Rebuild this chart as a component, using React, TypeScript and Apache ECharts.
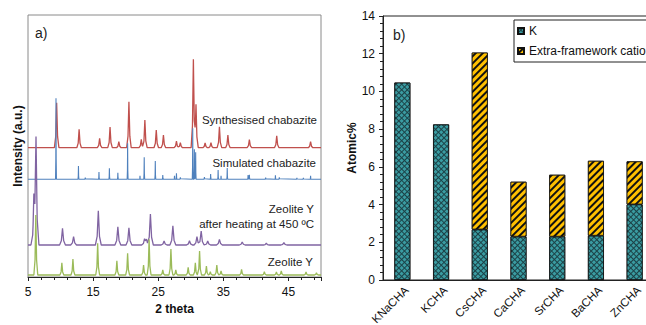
import React, { useEffect, useRef } from "react";
import * as echarts from "echarts";

// ---------- Panel a) XRD patterns: peak lists [2theta, height above baseline] ----------
const SYNTH_BASE = 129.3;
const synthPeaks: [number, number][] = [
  [9.4, 45], [12.85, 18.4], [16.0, 9.4], [17.6, 20.7], [18.95, 6], [20.5, 46],
  [22.4, 8.4], [22.95, 27.7], [24.7, 17.7], [25.8, 12.7], [27.8, 6.7], [28.4, 5],
  [30.4, 88.4], [30.8, 43.4], [32.2, 4.7], [33.1, 5], [34.4, 21], [35.7, 12.7],
  [39.0, 8], [43.2, 12], [48.4, 6],
];
const SIM_BASE = 97.7;
const simPeaks: [number, number][] = [
  [9.3, 81], [12.75, 13.3], [13.8, 1.6], [15.9, 7.3], [17.5, 11], [18.8, 6.6],
  [20.3, 36], [22.2, 3.6], [22.85, 22], [24.55, 18.3], [25.7, 4.3], [27.5, 3.6],
  [27.8, 6], [28.4, 2], [30.3, 51], [30.55, 30], [30.75, 27], [32.1, 2.3],
  [33.05, 5.3], [34.2, 9.3], [34.65, 3.6], [35.6, 11.3], [38.8, 4.3], [39.0, 4.5],
  [41.5, 1.6], [43.0, 4], [43.6, 2], [46.3, 1.5], [47.3, 1.5], [48.4, 3.6],
];
const HEATED_BASE = 32;
const heatedPeaks: [number, number][] = [
  [5.9, 40], [6.23, 104], [10.3, 16.7], [12.0, 8.3], [15.8, 34.3], [18.8, 18.3],
  [20.5, 17.3], [22.9, 5.7], [23.2, 5], [23.8, 31], [25.9, 4], [27.25, 19.3],
  [29.8, 4.3], [30.95, 8.3], [31.6, 14], [32.6, 4], [34.4, 5.7], [37.9, 3],
  [41.6, 1.7], [44.3, 2.3],
];
const ZY_BASE = 2;
const zyPeaks: [number, number][] = [
  [6.2, 60], [10.2, 12.3], [11.9, 16], [15.7, 31.7], [18.65, 14.3], [20.3, 21.7],
  [22.75, 10], [23.6, 35.7], [25.7, 5], [26.95, 26], [27.7, 5], [29.6, 7.7],
  [30.7, 12.3], [31.35, 24], [32.4, 9], [33.0, 3.3], [34.0, 10], [34.65, 4],
  [37.8, 5.7], [41.3, 3.3], [43.15, 3], [43.9, 4], [47.7, 3], [49.3, 2.3],
];
const TWO_THETA_MIN = 5;
const TWO_THETA_MAX = 50;

// ---------- Panel b) stacked bars ----------
const categories = ["KNaCHA", "KCHA", "CsCHA", "CaCHA", "SrCHA", "BaCHA", "ZnCHA"];
const kValues = [10.47, 8.25, 2.68, 2.3, 2.3, 2.35, 4.01];
const extraValues: (number | string)[] = ["-", "-", 9.38, 2.91, 3.28, 3.97, 2.28];

const FONT = "Liberation Sans, Arial, sans-serif";

// Render a peak list as a line: each read peak drawn with a fixed sharp profile
function patternLine(peaks: [number, number][], base: number, hw: number) {
  const xs = new Set<number>([TWO_THETA_MIN, TWO_THETA_MAX]);
  peaks.forEach(([p]) => {
    [-1, -0.4, 0, 0.4, 1].forEach((k) => {
      const x = +(p + k * hw).toFixed(4);
      if (x >= TWO_THETA_MIN && x <= TWO_THETA_MAX) xs.add(x);
    });
  });
  const prof = (d: number) => {
    const a = Math.abs(d) / hw;
    if (a >= 1) return 0;
    if (a <= 0.4) return 1 - (a / 0.4) * 0.75;
    return (0.25 * (1 - a)) / 0.6;
  };
  return [...xs]
    .sort((a, b) => a - b)
    .map((x) => [x - TWO_THETA_MIN, base + peaks.reduce((s, [p, h]) => s + h * prof(x - p), 0)]);
}

export default function App() {
  const ref = useRef<HTMLDivElement>(null);
  useEffect(() => {
    if (!ref.current) return;
    const chart = echarts.init(ref.current, undefined, { renderer: "svg" });
    const lineSeries = (name: string, data: number[][], color: string, w: number) => ({
      type: "line",
      name,
      xAxisIndex: 0,
      yAxisIndex: 0,
      data,
      symbol: "none",
      silent: true,
      lineStyle: { color, width: w },
    });
    const txt = (text: string, x: number, y: number, size = 11.5, align = "right", weight = "normal") => ({
      type: "text",
      x,
      y,
      style: { text, fill: "#222", fontSize: size, fontFamily: FONT, align, verticalAlign: "middle", fontWeight: weight },
    });
    chart.setOption({
      animation: false,
      backgroundColor: "#fff",
      textStyle: { fontFamily: FONT },
      grid: [
        {
          left: 28, top: 15, width: 293, height: 262, show: true,
          borderColor: "#8a8a8a", borderWidth: 1, containLabel: false, outerBoundsMode: "none",
        },
        {
          left: 383, top: 16, width: 271, height: 264, show: true,
          borderColor: "#222", borderWidth: 1, containLabel: false, outerBoundsMode: "none",
        },
      ],
      xAxis: [
        {
          type: "value",
          gridIndex: 0,
          min: 0,
          max: TWO_THETA_MAX - TWO_THETA_MIN,
          interval: 10,
          name: "2 theta",
          nameLocation: "middle",
          nameGap: 26,
          nameTextStyle: { fontWeight: "bold", fontSize: 12, color: "#111" },
          axisLine: { lineStyle: { color: "#222", width: 1 } },
          axisTick: { show: true, length: 4, lineStyle: { color: "#222" } },
          minorTick: { show: true, splitNumber: 5, length: 3, lineStyle: { color: "#222" } },
          axisLabel: {
            fontSize: 12,
            color: "#111",
            margin: 9,
            showMaxLabel: false,
            formatter: (v: number) => String(v + TWO_THETA_MIN),
          },
          splitLine: { show: false },
        },
        {
          type: "category",
          gridIndex: 1,
          data: categories,
          axisLine: { lineStyle: { color: "#222", width: 1 } },
          axisTick: { show: false },
          axisLabel: { rotate: 45, fontSize: 11.5, color: "#111", margin: 4, interval: 0, verticalAlign: "top" },
        },
      ],
      yAxis: [
        {
          type: "value",
          gridIndex: 0,
          min: 0,
          max: 262,
          name: "Intensity (a.u.)",
          nameLocation: "middle",
          nameGap: 4,
          nameTextStyle: { fontWeight: "bold", fontSize: 12, color: "#111" },
          axisLine: { show: false },
          axisTick: { show: false },
          axisLabel: { show: false },
          splitLine: { show: false },
        },
        {
          type: "value",
          gridIndex: 1,
          min: 0,
          max: 14,
          interval: 2,
          name: "Atomic%",
          nameLocation: "middle",
          nameGap: 18,
          nameTextStyle: { fontWeight: "bold", fontSize: 12, color: "#111" },
          axisLine: { show: true, lineStyle: { color: "#222", width: 1 } },
          axisTick: { show: true, length: 4, lineStyle: { color: "#222" } },
          minorTick: { show: true, splitNumber: 5, length: 3, lineStyle: { color: "#222" } },
          axisLabel: { fontSize: 12, color: "#111", margin: 8 },
          splitLine: { show: false },
        },
      ],
      legend: {
        data: ["K", "Extra-framework cations"],
        orient: "vertical",
        left: 514,
        top: 20,
        itemWidth: 6,
        itemHeight: 6,
        itemGap: 8,
        padding: [5, 60, 5, 3],
        borderColor: "#222",
        borderWidth: 1,
        icon: "rect",
        textStyle: { fontSize: 12, color: "#111" },
      },
      series: [
        lineSeries("Synthesised chabazite", patternLine(synthPeaks, SYNTH_BASE, 0.35), "#C0504D", 1.3),
        lineSeries("Simulated chabazite", patternLine(simPeaks, SIM_BASE, 0.07), "#4F81BD", 1.1),
        lineSeries("Zeolite Y after heating at 450 ºC", patternLine(heatedPeaks, HEATED_BASE, 0.45), "#8064A2", 1.3),
        lineSeries("Zeolite Y", patternLine(zyPeaks, ZY_BASE, 0.3), "#9BBB59", 1.3),
        {
          type: "bar",
          name: "K",
          xAxisIndex: 1,
          yAxisIndex: 1,
          stack: "atomic",
          barWidth: 16,
          data: kValues,
          itemStyle: {
            color: "#1c4247",
            borderColor: "#111",
            borderWidth: 0.8,
            decal: {
              symbol: "rect",
              color: "#3a9ca2",
              dashArrayX: [3, 1],
              dashArrayY: [3, 1],
              rotation: Math.PI / 4,
            },
          },
        },
        {
          type: "bar",
          name: "Extra-framework cations",
          xAxisIndex: 1,
          yAxisIndex: 1,
          stack: "atomic",
          barWidth: 16,
          data: extraValues,
          itemStyle: {
            color: "#111",
            borderColor: "#111",
            borderWidth: 0.8,
            decal: {
              symbol: "rect",
              color: "#FFC000",
              dashArrayX: [1, 0],
              dashArrayY: [2.4, 1.9],
              rotation: -Math.PI / 4,
            },
          },
        },
      ],
      graphic: [
        txt("a)", 35, 33, 14, "left"),
        txt("b)", 393, 35, 14, "left"),
        txt("Synthesised chabazite", 317, 120),
        txt("Simulated chabazite", 316, 163),
        txt("Zeolite Y", 314, 209),
        txt("after heating at 450 ºC", 314, 224),
        txt("Zeolite Y", 313, 262),
      ],
    });
    return () => chart.dispose();
  }, []);
  return (
    <div
      ref={ref}
      style={{ position: "absolute", left: 0, top: 0, width: 646, height: 325, overflow: "hidden" }}
    />
  );
}
